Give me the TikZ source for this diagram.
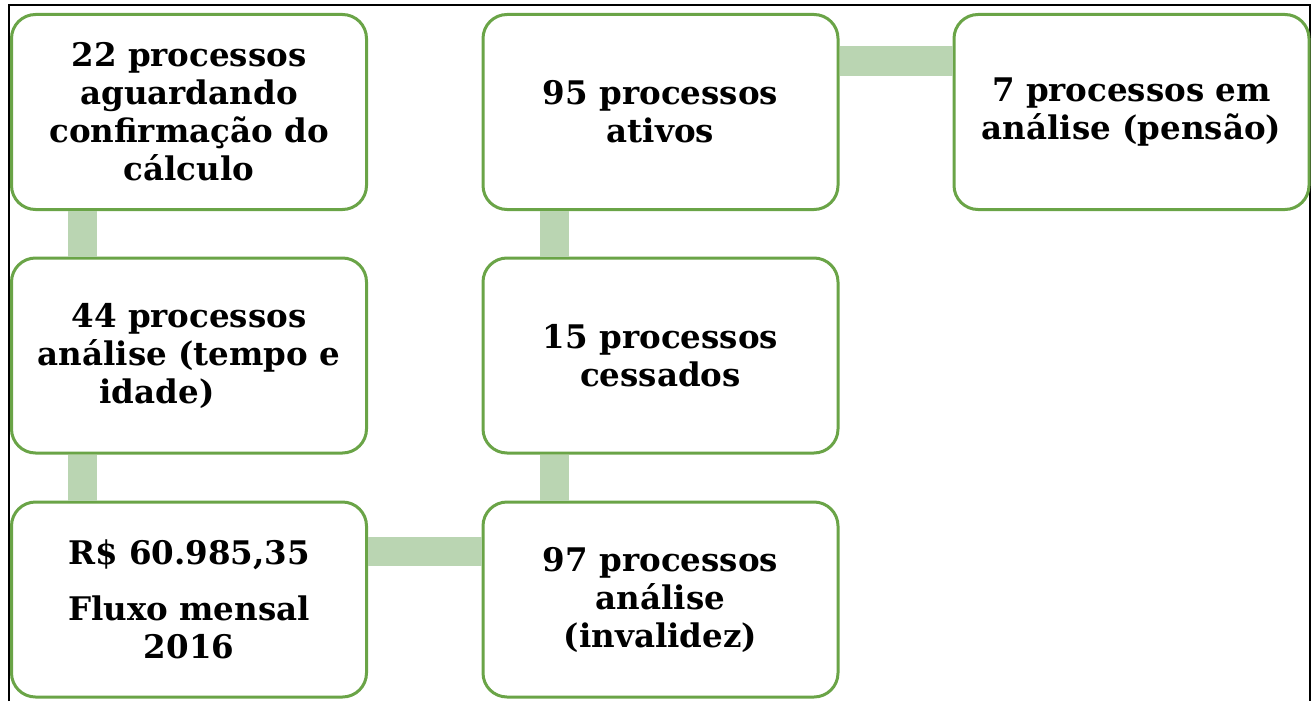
\documentclass[tikz,border=0pt]{standalone}
\usepackage{fontspec}
\setmainfont{DejaVu Serif}
\usepackage{xcolor}
\usepackage{tikz}

\definecolor{boxgreen}{RGB}{106,164,71}
\definecolor{linkgreen}{RGB}{186,213,178}

\tikzset{
  procbox/.style={draw=boxgreen, line width=3pt, fill=white, rounded corners=24pt,
    minimum width=355pt, minimum height=195pt, align=center, inner sep=0pt,
    font=\fontsize{32.5}{38}\selectfont\bfseries},
  link/.style={linkgreen, line width=29pt}
}

\begin{document}
\begin{tikzpicture}[x=1pt, y=-1pt]
      \useasboundingbox (0,0) rectangle (1316,701);

      % --- outer frame (open at the bottom) ---
      \draw[black, line width=2pt] (9,701) -- (9,5) -- (1310,5) -- (1310,701);

      % --- rails the connectors run on ---
      \coordinate (lcol) at (82,0);
      \coordinate (mcol) at (554,0);
      \coordinate (trow) at (0,61);
      \coordinate (brow) at (0,551);

      % --- boxes: three columns, three rows ---
      \node[procbox] (aguard) at (189,112) {22 processos\\aguardando\\confirmação do\\cálculo};
      \node[procbox] (tempo)  at (189,355.5) {44 processos\\análise (tempo e\\idade)\hspace*{64pt}};
      \node[procbox] (fluxo)  at (189,599.5) {R\$ 60.985,35\\[18pt]Fluxo mensal\\2016};
      \node[procbox] (ativos) at (660.5,112) {95 processos\\ativos};
      \node[procbox] (cessad) at (660.5,355.5) {15 processos\\cessados};
      \node[procbox] (invali) at (660.5,599.5) {97 processos\\análise\\(invalidez)};
      \node[procbox] (pensao) at (1131.5,112) {7 processos em\\análise (pensão)};

      % --- connectors between the boxes ---
      \draw[link] (aguard.south -| lcol) -- (tempo.north -| lcol);
      \draw[link] (tempo.south -| lcol) -- (fluxo.north -| lcol);
      \draw[link] (ativos.south -| mcol) -- (cessad.north -| mcol);
      \draw[link] (cessad.south -| mcol) -- (invali.north -| mcol);
      \draw[link] (fluxo.east |- brow) -- (invali.west |- brow);
      \draw[link] (ativos.east |- trow) -- (pensao.west |- trow);
    \end{tikzpicture}
\end{document}
